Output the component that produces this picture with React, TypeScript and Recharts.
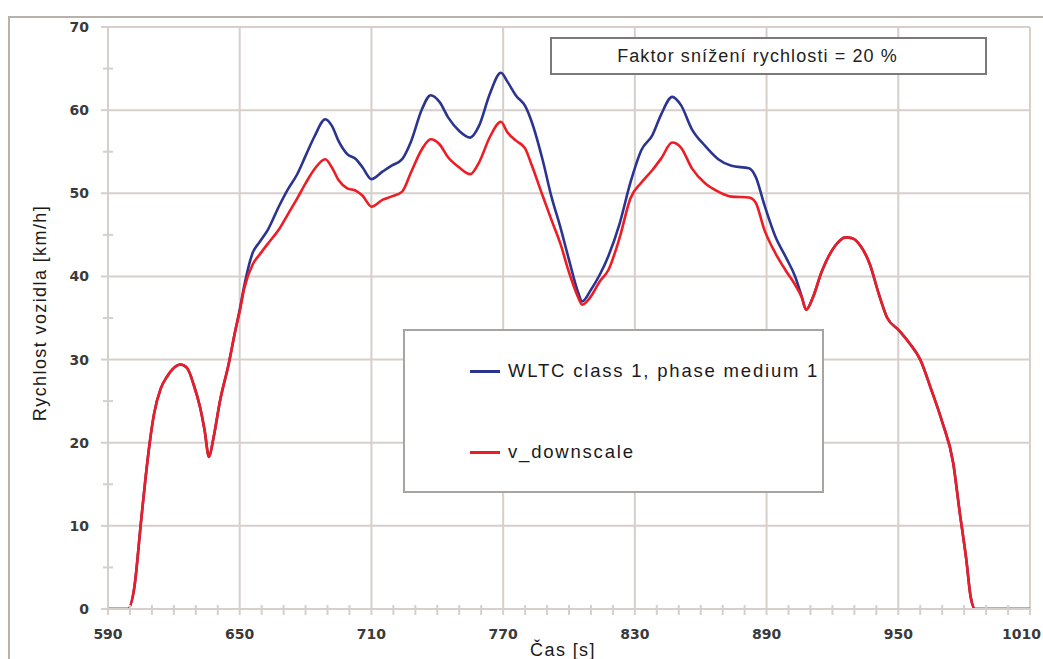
import React from 'react';
import { LineChart, Line, XAxis, YAxis, ReferenceLine } from 'recharts';

// time [s]
const times = [
  590, 599, 602, 605, 607, 609, 611, 614, 617, 620, 623, 626, 629, 632, 634, 636, 638, 641, 645, 648,
  650, 652, 656, 659, 663, 668, 672, 676, 680, 684, 689, 692, 695, 699, 703, 706, 710, 715, 719, 724,
  728, 733, 737, 741, 745, 750, 755, 759, 764, 769, 772, 776, 780, 783, 788, 792, 796, 800, 804, 806,
  810, 814, 818, 823, 828, 833, 838, 842, 847, 851, 856, 862, 868, 874, 882, 885, 889, 894, 899, 903,
  906, 908, 911, 915, 921, 926, 929, 933, 937, 941, 945, 950, 955, 960, 965, 970, 975, 978, 981, 983,
  985, 1010,
];

// WLTC class 1, phase medium 1 [km/h]
const wltcSpeed = [
  0, 0, 2.6, 10.4, 15.5, 20, 23.5, 26.5, 28, 29, 29.4, 29, 27, 24.2, 21.5, 18.3, 20.5, 25, 29.5, 33.5,
  36, 38.8, 42.9, 44.1, 45.7, 48.5, 50.5, 52.2, 54.5, 56.8, 58.9, 58.1, 56.3, 54.7, 54.1, 53.1, 51.7, 52.6, 53.3, 54.1,
  56.2, 60.1, 61.8, 61, 59.1, 57.5, 56.7, 58.1, 62, 64.5, 63.4, 61.7, 60.5, 58.6, 54, 49.6, 46, 42, 38.2, 37,
  38.4, 40.2, 42.5, 46.3, 51.3, 55.2, 57, 59.5, 61.6, 60.6, 57.7, 55.7, 54.1, 53.3, 53, 52, 48.6, 44.8, 42.2, 40,
  37.6, 36, 37.4, 40.5, 43.6, 44.7, 44.6, 43.6, 41.5, 38, 35, 33.6, 32, 30, 26.4, 22.5, 17.6, 11.6, 5.9, 1.4,
  0, 0,
];

// v_downscale [km/h]
const downscaleSpeed = [
  0, 0, 2.6, 10.4, 15.5, 20, 23.5, 26.5, 28, 29, 29.4, 29, 27, 24.2, 21.5, 18.3, 20.5, 25, 29.5, 33.5,
  35.8, 38.5, 41.5, 42.6, 44, 45.7, 47.5, 49.3, 51.2, 52.9, 54.1, 53.1, 51.6, 50.6, 50.3, 49.7, 48.4, 49.2, 49.6, 50.2,
  52.5, 55.3, 56.5, 55.9, 54.3, 53.1, 52.3, 53.7, 56.8, 58.6, 57.3, 56.3, 55.4, 53.4, 49.7, 46.8, 44, 40.5, 37.6, 36.6,
  37.6, 39.4, 40.8, 44.6, 49.4, 51.3, 52.8, 54.2, 56.1, 55.5, 53, 51.2, 50.2, 49.6, 49.5, 48.9, 45.6, 42.8, 40.6, 39,
  37.5, 36, 37.4, 40.5, 43.6, 44.7, 44.6, 43.6, 41.5, 38, 35, 33.6, 32, 30, 26.4, 22.5, 17.6, 11.6, 5.9, 1.4,
  0, 0,
];

const xMajorTicks = [590, 650, 710, 770, 830, 890, 950, 1010];
const xAllTicks = [
  590, 600, 610, 620, 630, 640, 650, 660, 670, 680, 690, 700, 710, 720, 730, 740, 750, 760, 770, 780,
  790, 800, 810, 820, 830, 840, 850, 860, 870, 880, 890, 900, 910, 920, 930, 940, 950, 960, 970, 980,
  990, 1000, 1010,
];
const yMajorTicks = [0, 10, 20, 30, 40, 50, 60, 70];
const yAllTicks = [0, 5, 10, 15, 20, 25, 30, 35, 40, 45, 50, 55, 60, 65, 70];

const seriesNames = ['WLTC class 1, phase medium 1', 'v_downscale'];
const annotationText = 'Faktor snížení rychlosti = 20 %';
const xTitle = 'Čas [s]';
const yTitle = 'Rychlost vozidla [km/h]';

const data = times.map((t, i) => ({ t, wltc: wltcSpeed[i], down: downscaleSpeed[i] }));

const GRID = '#d6cfcb';
const BLUE = '#2b3590';
const RED = '#ee1c24';
const TICK_FONT = '"DejaVu Sans", Verdana, sans-serif';
const TEXT_FONT = '"Liberation Sans", Arial, sans-serif';

const XTick = (props: any) => {
  const { x, y, payload } = props;
  const v = payload.value;
  const major = xMajorTicks.includes(v);
  const last = v === xMajorTicks[xMajorTicks.length - 1];
  return (
    <g>
      <line x1={x} x2={x} y1={major ? y - 1 : y - 4} y2={y + 6} stroke={GRID} strokeWidth={2} />
      {major && (
        <text
          x={last ? x + 11 : x}
          y={y + 30}
          textAnchor={last ? 'end' : 'middle'}
          fontFamily={TICK_FONT}
          fontWeight="bold"
          fontSize={14}
          fill="#3a3a3a"
        >
          {v}
        </text>
      )}
    </g>
  );
};

const YTick = (props: any) => {
  const { x, y, payload } = props;
  const v = payload.value;
  const major = yMajorTicks.includes(v);
  return (
    <g>
      <line x1={major ? x - 7 : x - 5} x2={major ? x : x + 5} y1={y} y2={y} stroke={GRID} strokeWidth={2} />
      {major && (
        <text x={x - 19} y={y + 5} textAnchor="end" fontFamily={TICK_FONT} fontWeight="bold" fontSize={14} fill="#3a3a3a">
          {v}
        </text>
      )}
    </g>
  );
};

export default function App() {
  return (
    <div style={{ position: 'absolute', left: 0, top: 0, width: 1043, height: 659, overflow: 'hidden', background: '#fff' }}>
      <div
        style={{
          position: 'absolute', left: 8, top: 16, width: 1060, height: 700,
          border: '2px solid #b8b2ae', boxSizing: 'border-box', pointerEvents: 'none',
        }}
      />
      <div style={{ position: 'absolute', left: 0, top: 0 }}>
        <LineChart width={1043} height={659} data={data} margin={{ top: 27, right: 13, left: 48, bottom: 20 }}>
          {xMajorTicks.slice(1).map((t) => (
            <ReferenceLine key={'gx' + t} x={t} stroke={GRID} strokeWidth={2} />
          ))}
          {yMajorTicks.slice(1).map((v) => (
            <ReferenceLine key={'gy' + v} y={v} stroke={GRID} strokeWidth={2} />
          ))}
          <XAxis
            dataKey="t"
            type="number"
            domain={[590, 1010]}
            ticks={xAllTicks}
            interval={0}
            height={30}
            tickSize={0}
            tickMargin={0}
            tickLine={false}
            stroke={GRID}
            strokeWidth={2}
            tick={<XTick />}
            allowDataOverflow
          />
          <YAxis
            type="number"
            domain={[0, 70]}
            ticks={yAllTicks}
            interval={0}
            width={60}
            tickSize={0}
            tickMargin={0}
            tickLine={false}
            stroke={GRID}
            strokeWidth={2}
            tick={<YTick />}
            allowDataOverflow
          />
          <Line type="monotone" dataKey="wltc" stroke={BLUE} strokeWidth={2.6} dot={false} isAnimationActive={false} />
          <Line type="monotone" dataKey="down" stroke={RED} strokeWidth={2.6} dot={false} isAnimationActive={false} />
        </LineChart>
      </div>

      <div
        style={{
          position: 'absolute', left: 550, top: 37, width: 437, height: 38, boxSizing: 'border-box',
          border: '2px solid #7c7a78', background: '#fff', display: 'flex', alignItems: 'center', justifyContent: 'center',
          paddingRight: 22,
          fontFamily: TEXT_FONT, fontSize: 18, letterSpacing: 1.1, color: '#222',
        }}
      >
        {annotationText}
      </div>

      <div
        style={{
          position: 'absolute', left: 403, top: 329, width: 421, height: 164, boxSizing: 'border-box',
          border: '2px solid #a8a4a2', background: '#fff',
        }}
      >
        {seriesNames.map((name, i) => (
          <div
            key={name}
            style={{
              position: 'absolute', left: 65, top: i === 0 ? 29 : 110, height: 22, display: 'flex', alignItems: 'center',
              fontFamily: TEXT_FONT, fontSize: 18.5, letterSpacing: 1.8, color: '#1a1a1a', whiteSpace: 'nowrap',
            }}
          >
            <span style={{ display: 'inline-block', width: 30, height: 3, background: i === 0 ? BLUE : RED, marginRight: 8 }} />
            {name}
          </div>
        ))}
      </div>

      <div
        style={{
          position: 'absolute', left: 40, top: 313, transform: 'translate(-50%, -50%) rotate(-90deg)',
          fontFamily: TEXT_FONT, fontSize: 18, letterSpacing: 1.4, color: '#1a1a1a', whiteSpace: 'nowrap', lineHeight: 1,
        }}
      >
        {yTitle}
      </div>
      <div
        style={{
          position: 'absolute', left: 563, top: 641, transform: 'translateX(-50%)',
          fontFamily: TEXT_FONT, fontSize: 18, letterSpacing: 1.4, color: '#1a1a1a', whiteSpace: 'nowrap', lineHeight: 1,
        }}
      >
        {xTitle}
      </div>
    </div>
  );
}
